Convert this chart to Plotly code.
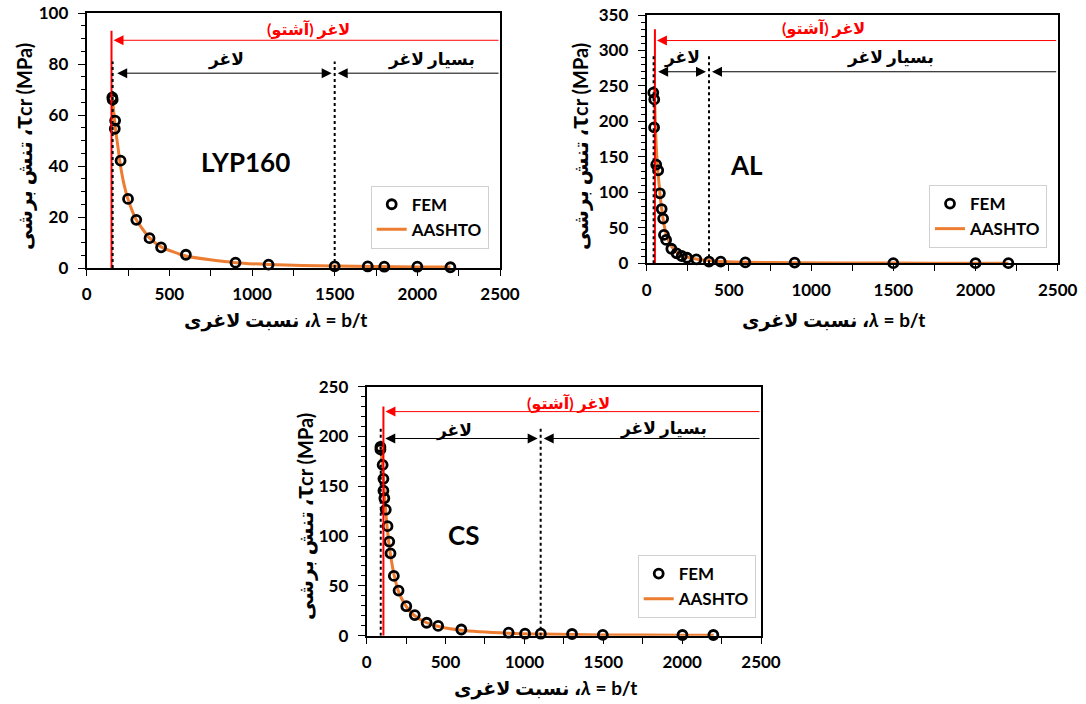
import plotly.graph_objects as go

# ---------------- data ----------------
# LYP160
lyp_fem_x = [155, 157, 172, 170, 205, 250, 300, 380, 450, 600, 900, 1100, 1500, 1700, 1800, 2000, 2200]
lyp_fem_y = [66.9, 66.0, 57.8, 54.6, 42.1, 27.1, 18.9, 11.7, 8.1, 5.2, 2.1, 1.3, 0.66, 0.6, 0.5, 0.5, 0.3]
lyp_aas_x = [157, 165, 175, 190, 200, 225, 250, 300, 380, 450, 600, 900, 1100, 1500, 2000, 2200]
lyp_aas_y = [66, 60, 54, 47, 42, 33, 27, 18.9, 11.8, 8.3, 4.7, 2.1, 1.4, 0.75, 0.42, 0.35]

# AL
al_fem_x = [40, 46, 45, 58, 70, 80, 91, 100, 105, 118, 150, 182, 213, 245, 302, 379, 450, 600, 900, 1500, 2000, 2200]
al_fem_y = [240.5, 231, 191.5, 139, 131, 98.7, 76.5, 63, 40, 33, 20.5, 14, 10.3, 7.8, 5.6, 2.3, 2.3, 1.2, 1.0, 0.2, 0.2, 0.2]
al_aas_x = [47, 52, 58, 65, 75, 85, 95, 105, 120, 150, 180, 210, 250, 300, 380, 450, 600, 900, 1500, 2000, 2200]
al_aas_y = [245, 200, 165, 138, 112, 88, 70, 55, 40, 24, 16, 11.5, 8.5, 6, 3.8, 2.7, 1.5, 0.7, 0.28, 0.16, 0.13]

# CS
cs_fem_x = [87, 87, 101, 106, 106, 112, 121, 132, 143, 151, 172, 202, 251, 305, 380, 453, 600, 900, 1004, 1104, 1302, 1497, 2002, 2198]
cs_fem_y = [189.5, 187, 171.5, 157.5, 145.6, 138, 126.5, 110, 94.5, 82.7, 60, 45.3, 29.6, 20.7, 13, 9.8, 6.2, 3, 2, 2, 1.7, 0.8, 0.7, 0.7]
cs_aas_x = [88, 100, 110, 120, 130, 140, 150, 175, 200, 250, 300, 380, 450, 600, 900, 1100, 1500, 2000, 2200]
cs_aas_y = [190, 172, 148, 126, 108, 94, 82, 60, 45, 29.5, 20.5, 13, 9.5, 5.5, 2.5, 1.6, 0.8, 0.45, 0.4]

# limits: (red line x, red top, red arrow y, dotted1 x, dotted2 x, dotted top, black arrow y)
panels = {
    "LYP160": dict(red_x=150, red_top=93, red_y=89.3, d1=157, d2=1500, d_top=81, blk_y=76.4,
                   red_txt=(1340, 93.6), slender_txt=(840, 81.8), very_txt=(2087, 81.8), name_pos=(958, 41.4)),
    "AL": dict(red_x=50, red_top=330, red_y=314, d1=42, d2=379, d_top=296, blk_y=270,
               red_txt=(1075, 331), slender_txt=(213, 291), very_txt=(1480, 291), name_pos=(608, 138.6)),
    "CS": dict(red_x=106, red_top=230, red_y=225, d1=89, d2=1103, d_top=208, blk_y=198,
               red_txt=(1278, 234), slender_txt=(552, 207), very_txt=(1880, 209), name_pos=(613, 101)),
}

x_ticks_dtick = 500
y_ranges = {"LYP160": [0, 100], "AL": [0, 350], "CS": [0, 250]}
y_dticks = {"LYP160": 20, "AL": 50, "CS": 50}
y_minor = {"LYP160": 5, "AL": 10, "CS": 10}

W, H = 1086, 704
# plot-area pixel boxes (left, right, top, bottom)
boxes = {"LYP160": (86.7, 500, 13, 268), "AL": (646.7, 1057.7, 15, 263.3), "CS": (366.7, 761, 386.7, 635.7)}
legend_pos = {"LYP160": (370.7, 185.7), "AL": (929, 185), "CS": (637.7, 555)}
xtitle_pos = {"LYP160": (275, 320), "AL": (833, 320), "CS": (545, 688)}
ytitle_pos = {"LYP160": (22, 147), "AL": (578, 147), "CS": (302, 517)}

FONT = "Lato, DejaVu Sans"
ORANGE = "#ED7D31"
RED = "#FF0000"

fig = go.Figure()
layout = dict(width=W, height=H, margin=dict(l=0, r=0, t=0, b=0),
              plot_bgcolor="white", paper_bgcolor="white", showlegend=True)
shapes = []
annotations = []

data = {
    "LYP160": (lyp_fem_x, lyp_fem_y, lyp_aas_x, lyp_aas_y),
    "AL": (al_fem_x, al_fem_y, al_aas_x, al_aas_y),
    "CS": (cs_fem_x, cs_fem_y, cs_aas_x, cs_aas_y),
}

for i, name in enumerate(["LYP160", "AL", "CS"]):
    n = "" if i == 0 else str(i + 1)
    xa, ya = "x" + n, "y" + n
    lg = "legend" + n
    l, r, t, b = boxes[name]
    fx, fy, axx, axy = data[name]

    fig.add_trace(go.Scatter(x=axx, y=axy, mode="lines", name="AASHTO",
                             line=dict(color=ORANGE, width=3, shape="spline", smoothing=0.6),
                             xaxis=xa, yaxis=ya, legend=lg, legendrank=2, cliponaxis=False))
    fig.add_trace(go.Scatter(x=fx, y=fy, mode="markers", name="FEM",
                             marker=dict(symbol="circle-open", size=9, color="black",
                                         line=dict(width=2.8, color="black")),
                             xaxis=xa, yaxis=ya, legend=lg, legendrank=1, cliponaxis=False))

    tickfont = dict(family=FONT, size=17, color="black", weight="bold")
    layout["xaxis" + n] = dict(domain=[l / W, r / W], anchor=ya, range=[0, 2500], dtick=x_ticks_dtick, tick0=0,
                               automargin=False,
                               ticks="outside", ticklen=6, tickwidth=1, tickcolor="black",
                               minor=dict(dtick=250, ticks="outside", ticklen=6, tickcolor="black"),
                               showline=True, linewidth=2, linecolor="black", mirror=True,
                               showgrid=False, zeroline=False, tickfont=tickfont, ticklabelstandoff=4)
    layout["yaxis" + n] = dict(domain=[1 - b / H, 1 - t / H], anchor=xa, range=y_ranges[name],
                               dtick=y_dticks[name], tick0=0, automargin=False,
                               ticks="outside", ticklen=7, tickwidth=1, tickcolor="black",
                               minor=dict(dtick=y_minor[name], ticks="outside", ticklen=4, tickcolor="black"),
                               showline=True, linewidth=2, linecolor="black", mirror=True,
                               showgrid=False, zeroline=False, tickfont=tickfont, ticklabelstandoff=6)
    lx, ly = legend_pos[name]
    layout[lg] = dict(x=lx / W, y=1 - ly / H, xanchor="left", yanchor="top",
                      bordercolor="#d0d0d0", borderwidth=1, bgcolor="white",
                      font=dict(family=FONT, size=17, color="black", weight="bold"),
                      tracegroupgap=0, itemwidth=30)

    p = panels[name]
    # red AASHTO limit line
    shapes.append(dict(type="line", xref=xa, yref=ya, x0=p["red_x"], x1=p["red_x"], y0=0, y1=p["red_top"],
                       line=dict(color=RED, width=2)))
    # dotted limits
    for dx in (p["d1"], p["d2"]):
        shapes.append(dict(type="line", xref=xa, yref=ya, x0=dx, x1=dx, y0=0, y1=p["d_top"],
                           line=dict(color="black", width=2, dash="dot")))
    # red arrow
    annotations.append(dict(xref=xa, yref=ya, axref=xa, ayref=ya, x=p["red_x"], y=p["red_y"],
                            ax=2500, ay=p["red_y"], text="", showarrow=True, arrowhead=2, arrowsize=2,
                            arrowwidth=1, arrowcolor=RED, standoff=2))
    # black double arrow
    annotations.append(dict(xref=xa, yref=ya, axref=xa, ayref=ya, x=p["d2"], y=p["blk_y"],
                            ax=p["d1"], ay=p["blk_y"], text="", showarrow=True, arrowhead=2, startarrowhead=2,
                            arrowside="end+start", arrowsize=2, startarrowsize=2, arrowwidth=1,
                            arrowcolor="black", standoff=3, startstandoff=3))
    # black arrow from right edge
    annotations.append(dict(xref=xa, yref=ya, axref=xa, ayref=ya, x=p["d2"], y=p["blk_y"],
                            ax=2500, ay=p["blk_y"], text="", showarrow=True, arrowhead=2, arrowsize=2,
                            arrowwidth=1, arrowcolor="black", standoff=3))
    # texts
    tx, ty = p["red_txt"]
    annotations.append(dict(xref=xa, yref=ya, x=tx, y=ty, text="<b>لاغر (آشتو)</b>", showarrow=False,
                            xanchor="center", yanchor="middle",
                            font=dict(family=FONT, size=16, color=RED)))
    tx, ty = p["slender_txt"]
    annotations.append(dict(xref=xa, yref=ya, x=tx, y=ty, text="<b>لاغر</b>", showarrow=False,
                            xanchor="center", yanchor="middle",
                            font=dict(family=FONT, size=17, color="black")))
    tx, ty = p["very_txt"]
    annotations.append(dict(xref=xa, yref=ya, x=tx, y=ty, text="<b>بسیار لاغر</b>", showarrow=False,
                            xanchor="center", yanchor="middle",
                            font=dict(family=FONT, size=17, color="black")))
    tx, ty = p["name_pos"]
    annotations.append(dict(xref=xa, yref=ya, x=tx, y=ty, text="<b>%s</b>" % name, showarrow=False,
                            xanchor="center", yanchor="middle",
                            font=dict(family=FONT, size=26, color="black")))
    # axis titles
    px_, py_ = xtitle_pos[name]
    annotations.append(dict(xref="paper", yref="paper", x=px_ / W, y=1 - py_ / H,
                            xanchor="center", yanchor="middle",
                            text="<b>نسبت لاغری ،<i>λ</i> = b/t</b>", showarrow=False,
                            font=dict(family=FONT, size=19, color="black")))
    px_, py_ = ytitle_pos[name]
    annotations.append(dict(xref="paper", yref="paper", x=px_ / W, y=1 - py_ / H, textangle=-90,
                            xanchor="center", yanchor="middle",
                            text="<b>تنش برشی ،<span style='font-size:27px'>τ</span>cr (MPa)</b>",
                            showarrow=False, font=dict(family=FONT, size=20, color="black")))

layout["shapes"] = shapes
layout["annotations"] = annotations
fig.update_layout(**layout)
fig.write_html("out.html", config={"displayModeBar": False},
               post_script="document.body.style.margin='0px';document.body.style.overflow='hidden';")
